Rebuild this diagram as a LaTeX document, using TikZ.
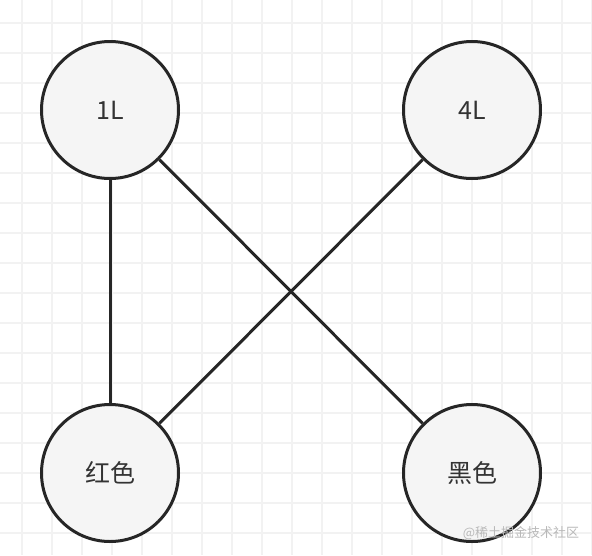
\documentclass[tikz,border=0pt]{standalone}
\usepackage{fontspec}
\setmainfont{Noto Sans CJK SC}

\begin{document}
\begin{tikzpicture}[x=1pt,y=-1pt,
  ball/.style={circle,draw=black!85,line width=3pt,fill=gray!8,minimum size=137pt,inner sep=0pt,text=black!80,font=\fontsize{25}{30}\selectfont},
  link/.style={draw=black!85,line width=3pt},
  gridline/.style={draw=gray!10,line width=1.5pt}]
\useasboundingbox (0,0) rectangle (592,555);
\fill[white] (0,0) rectangle (592,555);
% grid
\foreach \i in {0,...,19} \draw[gridline] (22+30*\i,0) -- (22+30*\i,555);
\foreach \j in {0,...,17} \draw[gridline] (0,23+30*\j) -- (592,23+30*\j);
% nodes
\node[ball] (oneL) at (110,110) {1L};
\node[ball] (fourL) at (472,110) {4L};
\node[ball] (red) at (110,473) {红色};
\node[ball] (black) at (472,473) {黑色};
% links
\draw[link] (oneL) -- (red);
\draw[link] (oneL) -- (black);
\draw[link] (fourL) -- (red);
\node[text=gray!55,font=\fontsize{13}{15}\selectfont] (mark) at (521,533) {@稀土掘金技术社区};
\end{tikzpicture}
\end{document}
